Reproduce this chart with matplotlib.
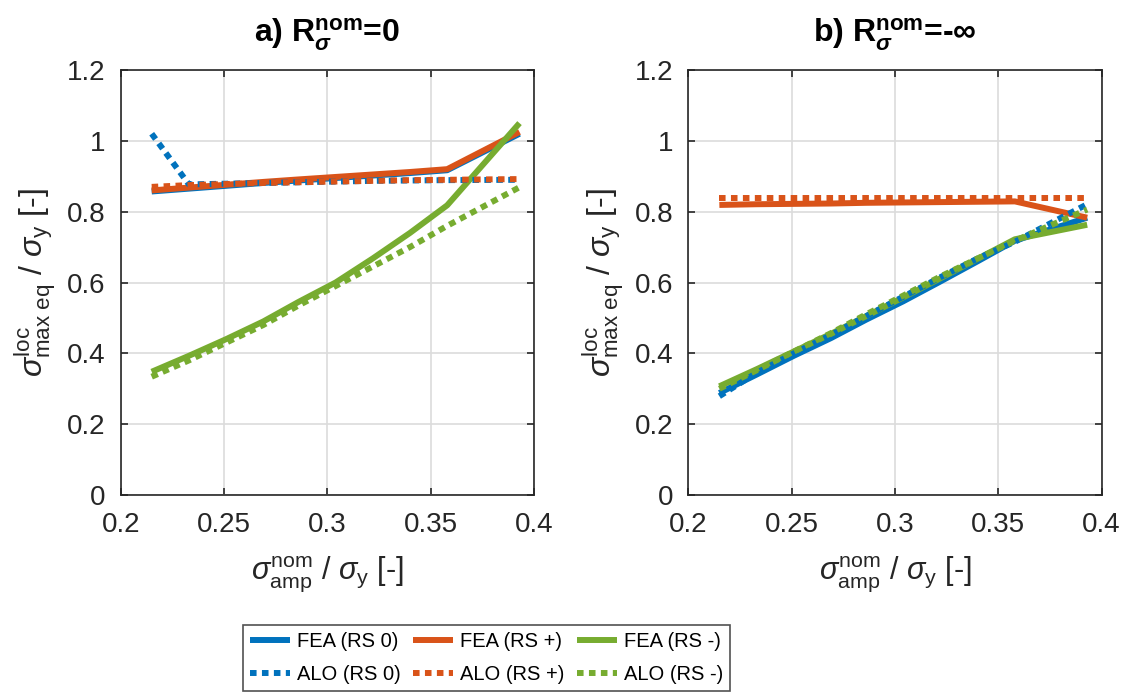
import numpy as np
import matplotlib
matplotlib.use("Agg")
import matplotlib.pyplot as plt
from matplotlib.ticker import FormatStrFormatter

plt.rcParams['font.family'] = ['Liberation Sans', 'DejaVu Sans']
plt.rcParams['mathtext.fontset'] = 'custom'
plt.rcParams['mathtext.rm'] = 'Liberation Sans'
plt.rcParams['mathtext.it'] = 'Liberation Sans:italic'
plt.rcParams['mathtext.bf'] = 'Liberation Sans:bold'
plt.rcParams['mathtext.bfit'] = 'Liberation Sans:italic:bold'

# stress amplitude sigma_amp^nom / sigma_y (same for both panels)
x_amp = [0.215, 0.233, 0.251, 0.269, 0.286, 0.304, 0.322, 0.340, 0.358, 0.393]

# a) R = 0
a_fea0 = [0.857, 0.865, 0.873, 0.881, 0.888, 0.895, 0.902, 0.909, 0.917, 1.020]
a_feap = [0.860, 0.868, 0.876, 0.884, 0.891, 0.898, 0.905, 0.912, 0.920, 1.025]
a_feam = [0.348, 0.393, 0.440, 0.490, 0.545, 0.600, 0.668, 0.740, 0.818, 1.050]
a_alo0 = [1.020, 0.877, 0.879, 0.881, 0.883, 0.885, 0.887, 0.888, 0.889, 0.890]
a_alop = [0.870, 0.875, 0.878, 0.881, 0.883, 0.885, 0.887, 0.889, 0.890, 0.892]
a_alom = [0.334, 0.380, 0.430, 0.480, 0.535, 0.590, 0.645, 0.700, 0.760, 0.869]

# b) R = -inf
b_fea0 = [0.288, 0.340, 0.393, 0.443, 0.495, 0.547, 0.603, 0.660, 0.718, 0.783]
b_feap = [0.819, 0.821, 0.822, 0.823, 0.825, 0.826, 0.827, 0.828, 0.829, 0.783]
b_feam = [0.307, 0.355, 0.405, 0.455, 0.505, 0.558, 0.612, 0.667, 0.722, 0.763]
b_alo0 = [0.279, 0.345, 0.400, 0.452, 0.505, 0.560, 0.615, 0.668, 0.715, 0.821]
b_alop = [0.838, 0.838, 0.838, 0.838, 0.838, 0.838, 0.838, 0.838, 0.838, 0.838]
b_alom = [0.300, 0.352, 0.405, 0.457, 0.510, 0.563, 0.617, 0.668, 0.718, 0.806]

labels = ['FEA (RS 0)', 'FEA (RS +)', 'FEA (RS -)', 'ALO (RS 0)', 'ALO (RS +)', 'ALO (RS -)']
colors = ['#0072BD', '#D95319', '#77AC30']
titles = [r'a) $\mathbf{R}^{\mathbf{nom}}_{\mathbfit{\sigma}}$=0',
          r'b) $\mathbf{R}^{\mathbf{nom}}_{\mathbfit{\sigma}}$=-$\mathbf{\infty}$']

panels = [[a_fea0, a_feap, a_feam, a_alo0, a_alop, a_alom],
          [b_fea0, b_feap, b_feam, b_alo0, b_alop, b_alom]]

fig = plt.figure(figsize=(11.27, 6.93), dpi=100)
ax_a = fig.add_axes([0.1071, 0.2857, 0.3667, 0.6133])
ax_b = fig.add_axes([0.6108, 0.2857, 0.3667, 0.6133])

dark = '#262626'
handles = []
for ax, series, title in zip([ax_a, ax_b], panels, titles):
    lines = []
    for i, y in enumerate(series):
        if i < 3:
            ln, = ax.plot(x_amp, y, color=colors[i], lw=4.3, solid_capstyle='butt',
                          label=labels[i])
        else:
            ln, = ax.plot(x_amp, y, color=colors[i - 3], lw=4.3,
                          linestyle=(0, (1.1, 0.9)), dash_capstyle='butt',
                          label=labels[i])
        lines.append(ln)
    handles = lines
    ax.set_xlim(0.2, 0.4)
    ax.set_ylim(0, 1.2)
    ax.set_xticks([0.2, 0.25, 0.3, 0.35, 0.4])
    ax.set_yticks([0, 0.2, 0.4, 0.6, 0.8, 1.0, 1.2])
    ax.xaxis.set_major_formatter(FormatStrFormatter('%g'))
    ax.yaxis.set_major_formatter(FormatStrFormatter('%g'))
    ax.grid(True, color='#dcdcdc', lw=1.2)
    ax.set_axisbelow(True)
    ax.tick_params(direction='in', top=True, right=True, length=5, width=1.2,
                   labelsize=20, colors=dark)
    ax.tick_params(axis='x', pad=12)
    ax.tick_params(axis='y', pad=11)
    for sp in ax.spines.values():
        sp.set_color(dark)
        sp.set_linewidth(1.2)
    ax.set_title(title, fontsize=23, fontweight='bold', pad=20)
    ax.set_xlabel(r'$\sigma^{\mathrm{nom}}_{\mathrm{amp}}$ / $\sigma_{\mathrm{y}}$ [-]',
                  fontsize=22, color=dark, labelpad=12)
    ax.set_ylabel(r'$\sigma^{\mathrm{loc}}_{\mathrm{max\ eq}}$ / $\sigma_{\mathrm{y}}$ [-]',
                  fontsize=23, color=dark, labelpad=6)

# legend ordered row-wise: FEA row then ALO row
order = [0, 3, 1, 4, 2, 5]
leg = fig.legend([handles[k] for k in order], [labels[k] for k in order],
                 ncol=3, loc='center', bbox_to_anchor=(0.4316, 0.0505),
                 fontsize=14.5, frameon=True, fancybox=False, edgecolor=dark,
                 handlelength=2.0, columnspacing=0.6, handletextpad=0.35,
                 borderpad=0.35, labelspacing=0.65, borderaxespad=0)
leg.get_frame().set_linewidth(1.2)

fig.savefig('out.png', dpi=100)
